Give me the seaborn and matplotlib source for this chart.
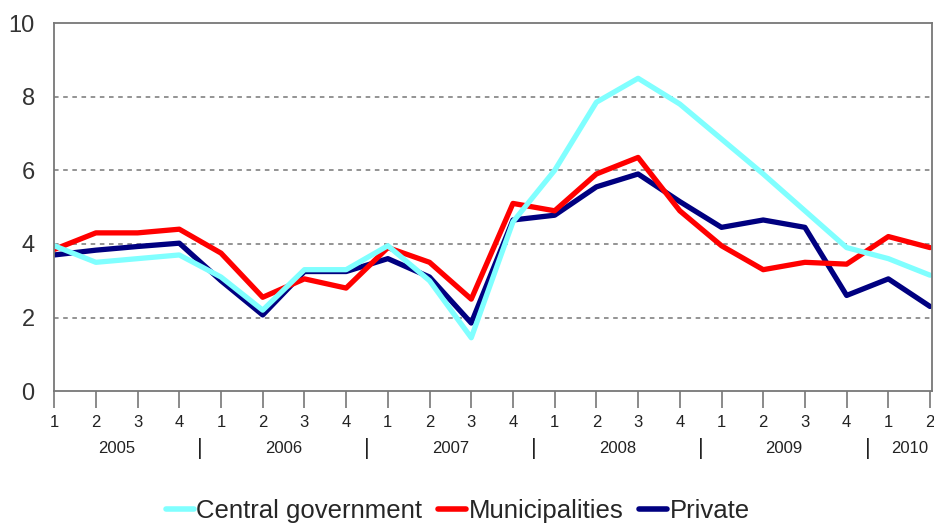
import numpy as np
import pandas as pd
import seaborn as sns
import matplotlib.pyplot as plt

years = ["2005", "2006", "2007", "2008", "2009", "2010"]
quarters = ["1", "2", "3", "4"] * 5 + ["1", "2"]

central = [3.95, 3.5, 3.6, 3.7, 3.1, 2.2, 3.3, 3.3, 3.95, 3.0, 1.45, 4.6,
           6.0, 7.85, 8.5, 7.8, 6.85, 5.9, 4.9, 3.9, 3.6, 3.15]
municipal = [3.85, 4.3, 4.3, 4.4, 3.75, 2.55, 3.05, 2.8, 3.9, 3.5, 2.5, 5.1,
             4.9, 5.9, 6.35, 4.9, 3.95, 3.3, 3.5, 3.45, 4.2, 3.9]
private = [3.7, 3.83, 3.93, 4.02, 3.0, 2.07, 3.25, 3.25, 3.6, 3.1, 1.85, 4.65,
           4.78, 5.55, 5.9, 5.15, 4.45, 4.65, 4.45, 2.6, 3.05, 2.3]

series = ["Central government", "Municipalities", "Private"]
colors = {"Central government": "#80FFFF",
          "Municipalities": "#FF0000",
          "Private": "#000080"}

idx = np.arange(len(quarters))
df = pd.DataFrame({
    "t": np.tile(idx, 3),
    "value": central + municipal + private,
    "series": np.repeat(series, len(quarters)),
})

sns.set_style("white")
plt.rcParams["font.family"] = ["Liberation Sans", "DejaVu Sans"]

fig = plt.figure(figsize=(9.34, 5.25), dpi=100)
ax = fig.add_axes([0.058, 0.255, 0.94, 0.701])

# draw private first so the cyan line sits on top, as in the original
sns.lineplot(
    data=df, x="t", y="value", hue="series",
    hue_order=["Private", "Municipalities", "Central government"],
    palette=colors, linewidth=3.8, ax=ax, legend=False,
)

ax.set_xlim(0, 21.05)
ax.set_ylim(0, 10)
ax.set_yticks([0, 2, 4, 6, 8, 10])
ax.set_yticklabels(["0", "2", "4", "6", "8", "10"], fontsize=17, color="#333333")
ax.tick_params(axis="y", length=0, pad=14)

ax.set_xticks(idx)
ax.set_xticklabels(quarters, fontsize=12, color="#222222")
ax.tick_params(axis="x", direction="out", length=12, width=1.2,
               color="#777777", pad=5, bottom=True)

for y in [2, 4, 6, 8]:
    ax.axhline(y, color="#777777", linestyle=(0, (3, 3)), linewidth=1.1, zorder=0)

for s in ax.spines.values():
    s.set_color("#777777")
    s.set_linewidth(1.3)

ax.set_xlabel("")
ax.set_ylabel("")

# year labels and separators below the quarter ticks
trans = ax.get_xaxis_transform()
for i, yr in enumerate(years):
    start = i * 4
    if yr == "2010":
        centre = start + 0.5
    else:
        centre = start + 1.5
    ax.text(centre, -0.155, yr, transform=trans, ha="center", va="center",
            fontsize=12, color="#222222")
    if i > 0:
        ax.text(start - 0.5, -0.155, "|", transform=trans, ha="center",
                va="center", fontsize=16, color="#222222")

handles = [plt.Line2D([], [], color=colors[s], linewidth=4) for s in series]
fig.legend(handles, series, loc="lower center", bbox_to_anchor=(0.49, -0.04),
           ncol=3, frameon=False, fontsize=18.5, handlelength=1.1,
           handletextpad=0.1, columnspacing=0.6)

plt.savefig("out.png", dpi=100)
